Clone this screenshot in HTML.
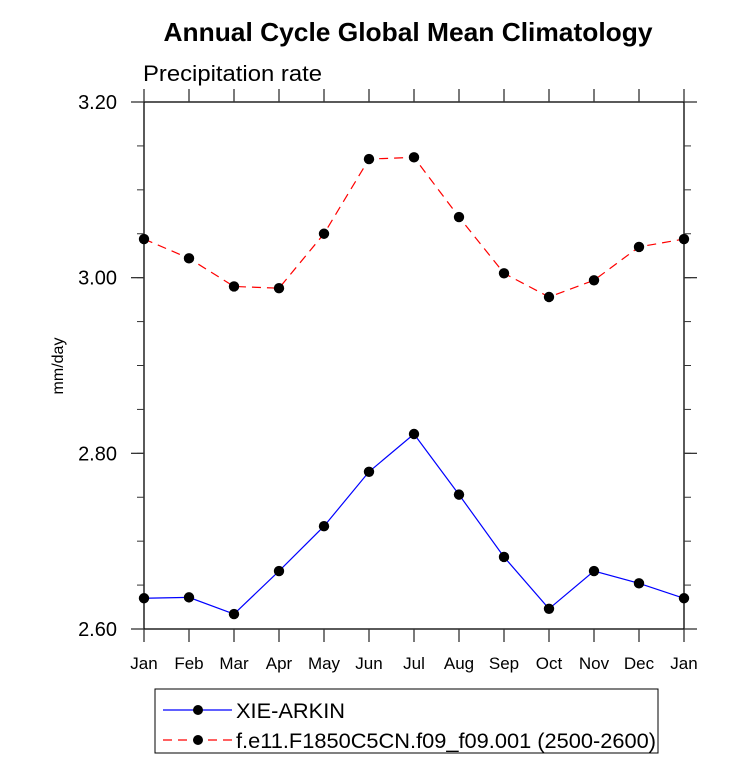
<!DOCTYPE html>
<html><head><meta charset="utf-8"><style>
body{margin:0;background:#fff;}
svg text{font-family:"Liberation Sans",sans-serif;}
</style></head><body>
<svg id="chart" width="733" height="766" xmlns="http://www.w3.org/2000/svg">
<text x="408" y="41" text-anchor="middle" font-size="26" font-weight="bold" textLength="489" lengthAdjust="spacingAndGlyphs">Annual Cycle Global Mean Climatology</text>
<text x="143" y="81" font-size="22" textLength="179" lengthAdjust="spacingAndGlyphs">Precipitation rate</text>
<text transform="translate(63,366) rotate(-90)" text-anchor="middle" font-size="16">mm/day</text>
<rect x="144" y="102" width="540" height="527" fill="none" stroke="#000" stroke-width="1.3"/>
<g id="ticks"></g>
<g id="series"></g>
<g>
<rect x="155" y="689" width="503" height="64" fill="none" stroke="#000" stroke-width="1"/>
<line x1="163" y1="710" x2="232" y2="710" stroke="#0000ff" stroke-width="1.2"/>
<circle cx="198" cy="710" r="5" fill="#000"/>
<text x="236" y="718" font-size="21" textLength="109" lengthAdjust="spacingAndGlyphs">XIE-ARKIN</text>
<line x1="163" y1="740" x2="232" y2="740" stroke="#ff0000" stroke-width="1.2" stroke-dasharray="9,6"/>
<circle cx="198" cy="740" r="5" fill="#000"/>
<text x="236" y="748" font-size="21" textLength="420" lengthAdjust="spacingAndGlyphs">f.e11.F1850C5CN.f09_f09.001 (2500-2600)</text>
</g>
</svg>
<script>
const months=["Jan","Feb","Mar","Apr","May","Jun","Jul","Aug","Sep","Oct","Nov","Dec","Jan"];
const obsValues=[2.635,2.636,2.617,2.666,2.717,2.779,2.822,2.753,2.682,2.623,2.666,2.652,2.635];
const modelValues=[3.044,3.022,2.990,2.988,3.050,3.135,3.137,3.069,3.005,2.978,2.997,3.035,3.044];
const yTicks=[2.60,2.80,3.00,3.20];
const yTickLabels=["2.60","2.80","3.00","3.20"];
const NS="http://www.w3.org/2000/svg";
const X0=144,X1=684,Y0=629,Y1=102,ymin=2.6,ymax=3.2;
function xs(i){return X0+(X1-X0)*i/(months.length-1);}
function ys(v){return Y0-(v-ymin)/(ymax-ymin)*(Y0-Y1);}
function mk(tag,attrs,parent){const e=document.createElementNS(NS,tag);for(const k in attrs)e.setAttribute(k,attrs[k]);parent.appendChild(e);return e;}
const tg=document.getElementById("ticks");
months.forEach((m,i)=>{
 const x=xs(i);
 const t=mk("line",{x1:x,x2:x,y1:Y0,y2:Y0+13,stroke:"#333","stroke-width":"1.3"},tg);
 
 
 mk("line",{x1:x,x2:x,y1:Y1,y2:Y1-13,stroke:"#333","stroke-width":"1.3"},tg);
 const l=mk("text",{x:x,y:669,"text-anchor":"middle","font-size":"17"},tg);
 l.textContent=m;
 
 
});
for(let v=ymin;v<=ymax+1e-9;v+=0.05){
 const y=ys(v);
 mk("line",{x1:X0,x2:X0-7,y1:y,y2:y,stroke:"#333"},tg);
 mk("line",{x1:X1,x2:X1+7,y1:y,y2:y,stroke:"#333"},tg);
}
yTicks.forEach((v,i)=>{
 const y=ys(v);
 const t=mk("line",{x1:X0,x2:X0-13,y1:y,y2:y,stroke:"#333","stroke-width":"1.3"},tg);
 
 
 mk("line",{x1:X1,x2:X1+13,y1:y,y2:y,stroke:"#333","stroke-width":"1.3"},tg);
 const l=mk("text",{x:117,y:y+7,"text-anchor":"end","font-size":"20"},tg);
 l.textContent=yTickLabels[i];
 
 
});
const sg=document.getElementById("series");
function draw(vals,color,dash,name){
 const p=mk("polyline",{points:vals.map((v,i)=>xs(i)+","+ys(v)).join(" "),fill:"none",stroke:color,"stroke-width":"1.2","stroke-dasharray":dash},sg);
 
 
 vals.forEach((v,i)=>{
  const c=mk("circle",{cx:xs(i),cy:ys(v),r:5.2,fill:"#000"},sg);
  
  
 });
}
draw(modelValues,"#ff0000","9,6","model");
draw(obsValues,"#0000ff","none","xie-arkin");
</script>
</body></html>
